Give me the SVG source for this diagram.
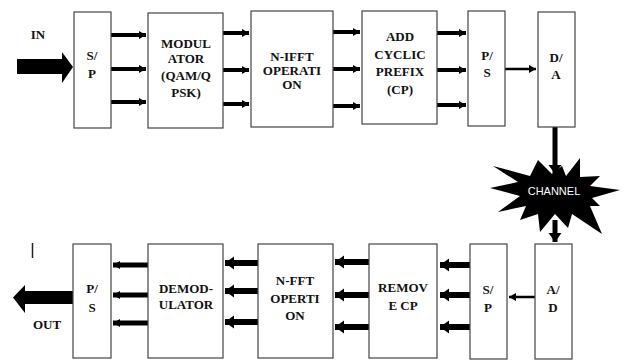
<svg xmlns="http://www.w3.org/2000/svg" width="624" height="361" viewBox="0 0 624 361">
<style>
.box{fill:#fff;stroke:#444;stroke-width:1.2}
.t{font-weight:bold;font-size:13px;fill:#111;text-anchor:middle}
.a4{stroke:#000;stroke-width:4;fill:none;marker-end:url(#hs)}
.a6{stroke:#000;stroke-width:6;fill:none;marker-end:url(#hb)}
.a2{stroke:#000;stroke-width:2.5;fill:none;marker-end:url(#hs)}
.a5{stroke:#000;stroke-width:5;fill:none;marker-end:url(#hb)}
.a5s{stroke:#000;stroke-width:5;fill:none;marker-end:url(#hs)}
</style>
<defs>
<marker id="hs" markerUnits="userSpaceOnUse" markerWidth="8" markerHeight="10" refX="7" refY="5" orient="auto"><path d="M0,1 L7,5 L0,9 Z" fill="#000"/></marker>
<marker id="hb" markerUnits="userSpaceOnUse" markerWidth="10" markerHeight="14" refX="9" refY="7" orient="auto"><path d="M0,0.5 L9,7 L0,13.5 Z" fill="#000"/></marker>
</defs>
<rect width="624" height="361" fill="#fff"/>

<g id="connectors">
<path class="a4" d="M111,35H146"/><path class="a4" d="M111,69H146"/><path class="a4" d="M111,102H146"/>
<path class="a4" d="M223,33H249"/><path class="a4" d="M223,70H249"/><path class="a4" d="M223,104H249"/>
<path class="a4" d="M333,32H360"/><path class="a4" d="M333,69H360"/><path class="a4" d="M333,106H360"/>
<path class="a4" d="M437,33H466"/><path class="a4" d="M437,70H466"/><path class="a4" d="M437,105H466"/>
<path class="a2" d="M505,69H536"/>
<path class="a5" d="M555,127V174"/>
<path class="a5" d="M555,220V242"/>
<path class="a2" d="M535,297H509"/>
<path class="a6" d="M470,265H440"/><path class="a6" d="M470,295H440"/><path class="a6" d="M470,327H440"/>
<path class="a6" d="M369,262H335"/><path class="a6" d="M369,295H335"/><path class="a6" d="M369,327H335"/>
<path class="a6" d="M258,263H225"/><path class="a6" d="M258,291H225"/><path class="a6" d="M258,322H225"/>
<path class="a5s" d="M148,265H113"/><path class="a5s" d="M148,295H113"/><path class="a5s" d="M148,323H113"/>
<polygon points="17,59 62,59 62,52 73,67 62,83 62,74 17,74" fill="#000"/>
<polygon points="73,291 25,291 25,285 13,297.5 25,313 25,304 73,304" fill="#000"/>
</g>

<g font-family="Liberation Serif, Times New Roman, serif">
<text class="t" x="38" y="39">IN</text>
<text class="t" x="47" y="329">OUT</text>
</g>
<line x1="32.5" y1="243" x2="32.5" y2="258" stroke="#222" stroke-width="1.5"/>

<g font-family="Liberation Serif, Times New Roman, serif">
<g id="sp_tx"><rect class="box" x="74" y="12" width="37" height="116"/><text class="t" x="92" y="60">S/</text><text class="t" x="92" y="78">P</text></g>
<g id="modulator"><rect class="box" x="148" y="13" width="75" height="115"/><text class="t" x="186" y="48">MODUL</text><text class="t" x="186" y="63">ATOR</text><text class="t" x="186" y="80">(QAM/Q</text><text class="t" x="186" y="97">PSK)</text></g>
<g id="nifft"><rect class="box" x="251" y="11" width="82" height="116"/><text class="t" x="292" y="61">N-IFFT</text><text class="t" x="292" y="75">OPERATI</text><text class="t" x="292" y="89">ON</text></g>
<g id="addcp"><rect class="box" x="362" y="11" width="75" height="113"/><text class="t" x="400" y="41">ADD</text><text class="t" x="400" y="59">CYCLIC</text><text class="t" x="400" y="76">PREFIX</text><text class="t" x="400" y="94">(CP)</text></g>
<g id="ps_tx"><rect class="box" x="468" y="11" width="37" height="115"/><text class="t" x="487" y="60">P/</text><text class="t" x="487" y="77">S</text></g>
<g id="da"><rect class="box" x="538" y="12" width="37" height="115"/><text class="t" x="556" y="62">D/</text><text class="t" x="556" y="79">A</text></g>
</g>

<g id="channel">
<polygon fill="#000" points="490,188 518,182 493,166 530,176 538,160 552,174 562,166 566,176 580,158 580,177 600,176 590,186 620,190 592,198 600,206 590,206 602,234 572,214 568,228 555,214 540,232 538,214 520,220 526,206 498,212 520,196"/>
<text x="554" y="195" fill="#fff" font-family="Liberation Sans, Arial, sans-serif" font-size="11" text-anchor="middle">CHANNEL</text>
</g>

<g font-family="Liberation Serif, Times New Roman, serif">
<g id="ad"><rect class="box" x="535" y="244" width="37" height="115"/><text class="t" x="553" y="294">A/</text><text class="t" x="553" y="312">D</text></g>
<g id="sp_rx"><rect class="box" x="470" y="244" width="37" height="115"/><text class="t" x="488" y="294">S/</text><text class="t" x="488" y="312">P</text></g>
<g id="removecp"><rect class="box" x="369" y="244" width="68" height="114"/><text class="t" x="403" y="292">REMOV</text><text class="t" x="403" y="310">E CP</text></g>
<g id="nfft"><rect class="box" x="258" y="244" width="75" height="114"/><text class="t" x="295" y="285">N-FFT</text><text class="t" x="295" y="303">OPERTI</text><text class="t" x="295" y="320">ON</text></g>
<g id="demod"><rect class="box" x="148" y="244" width="75" height="114"/><text class="t" x="186" y="293">DEMOD-</text><text class="t" x="186" y="309">ULATOR</text></g>
<g id="ps_rx"><rect class="box" x="73" y="244" width="38" height="114"/><text class="t" x="92" y="293">P/</text><text class="t" x="92" y="312">S</text></g>
</g>
</svg>
